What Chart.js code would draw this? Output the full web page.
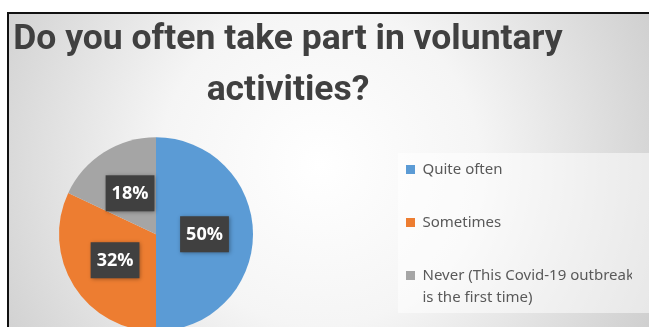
<!DOCTYPE html>
<html>
<head>
<meta charset="utf-8">
<script src="https://cdn.jsdelivr.net/npm/chart.js@4"></script>
<style>
  html, body { margin: 0; padding: 0; background: #fff; overflow: hidden; }
  #wrap { position: relative; width: 649px; height: 327px; overflow: hidden; }
  #pie { position: absolute; left: -56px; top: 0; }
</style>
</head>
<body>
<div id="wrap"><canvas id="pie" width="705" height="350"></canvas></div>
<script>
const titleLines = ['Do you often take part in voluntary', 'activities?'];
const categories = ['Quite often', 'Sometimes', 'Never (This Covid-19 outbreak is the first time)'];
const legendLines = [['Quite often'], ['Sometimes'], ['Never (This Covid-19 outbreak', 'is the first time)']];
const shares = [50, 32, 18];
const sliceColors = ['#5b9bd5', '#ed7d31', '#a5a5a5'];

// the canvas is shifted left so the pie can sit where the picture has it
const SX = 56;
const legendWidth = 264;

const backdrop = {
  id: 'backdrop',
  beforeDraw(chart) {
    const ctx = chart.ctx;
    const w = chart.width, h = chart.height;
    ctx.save();
    ctx.fillStyle = '#fff';
    ctx.fillRect(0, 0, w, h);
    const g = ctx.createRadialGradient(SX + 320, 165, 0, SX + 320, 165, 400);
    g.addColorStop(0, '#ffffff');
    g.addColorStop(0.4, '#f5f5f5');
    g.addColorStop(1, '#c9c9c9');
    ctx.fillStyle = g;
    ctx.fillRect(SX + 8, 13, w, h);
    // legend panel
    ctx.fillStyle = 'rgba(255,255,255,0.5)';
    ctx.fillRect(SX + 398, 153, 320, 160);
    // frame
    ctx.strokeStyle = '#111';
    ctx.lineWidth = 2;
    ctx.beginPath();
    ctx.moveTo(SX + 8, h);
    ctx.lineTo(SX + 8, 13);
    ctx.lineTo(w, 13);
    ctx.stroke();
    ctx.restore();
  }
};

const legendFit = {
  id: 'legendFit',
  beforeInit(chart) {
    const fit = chart.legend.fit;
    chart.legend.fit = function () {
      fit.call(this);
      this.width = legendWidth;
    };
  }
};

const percentBoxes = {
  id: 'percentBoxes',
  afterDatasetsDraw(chart) {
    const ctx = chart.ctx;
    const data = chart.data.datasets[0].data;
    const total = data.reduce((a, b) => a + b, 0);
    ctx.save();
    ctx.font = 'bold 18px "Open Sans"';
    ctx.textAlign = 'center';
    ctx.textBaseline = 'middle';
    chart.getDatasetMeta(0).data.forEach((arc, i) => {
      const p = arc.getCenterPoint();
      const txt = Math.round(data[i] / total * 100) + '%';
      const bw = ctx.measureText(txt).width + 12;
      const bh = 36;
      ctx.shadowColor = 'rgba(0,0,0,0.35)';
      ctx.shadowBlur = 4;
      ctx.shadowOffsetX = 1;
      ctx.shadowOffsetY = 1;
      ctx.fillStyle = '#404040';
      ctx.fillRect(p.x - bw / 2, p.y - bh / 2, bw, bh);
      ctx.shadowColor = 'transparent';
      ctx.fillStyle = '#ffffff';
      ctx.fillText(txt, p.x, p.y + 1);
    });
    ctx.restore();
  }
};

new Chart(document.getElementById('pie'), {
  type: 'pie',
  data: {
    labels: categories,
    datasets: [{
      data: shares,
      backgroundColor: sliceColors,
      borderWidth: 0
    }]
  },
  options: {
    responsive: false,
    animation: false,
    devicePixelRatio: 1,
    events: [],
    radius: 97,
    layout: { padding: { left: 0, right: 17, top: 0, bottom: 0 } },
    plugins: {
      title: {
        display: true,
        text: titleLines,
        color: '#404040',
        font: { family: 'Roboto', weight: 'bold', size: 35.5, lineHeight: 51 / 35.5 },
        padding: { top: 15, bottom: 1.5 }
      },
      legend: {
        position: 'right',
        align: 'end',
        fullSize: false,
        labels: {
          boxWidth: 9,
          boxHeight: 9,
          padding: 38,
          color: '#595959',
          font: { family: 'Noto Sans', size: 15, lineHeight: 22 / 15 },
          generateLabels(chart) {
            const base = (Chart.overrides.pie || Chart.overrides.doughnut).plugins.legend.labels.generateLabels;
            const items = base(chart);
            items.forEach((item, i) => {
              const lines = legendLines[i];
              item.text = lines.length > 1 ? lines : lines[0];
            });
            return items;
          }
        }
      },
      tooltip: { enabled: false }
    }
  },
  plugins: [backdrop, legendFit, percentBoxes]
});
</script>
</body>
</html>
